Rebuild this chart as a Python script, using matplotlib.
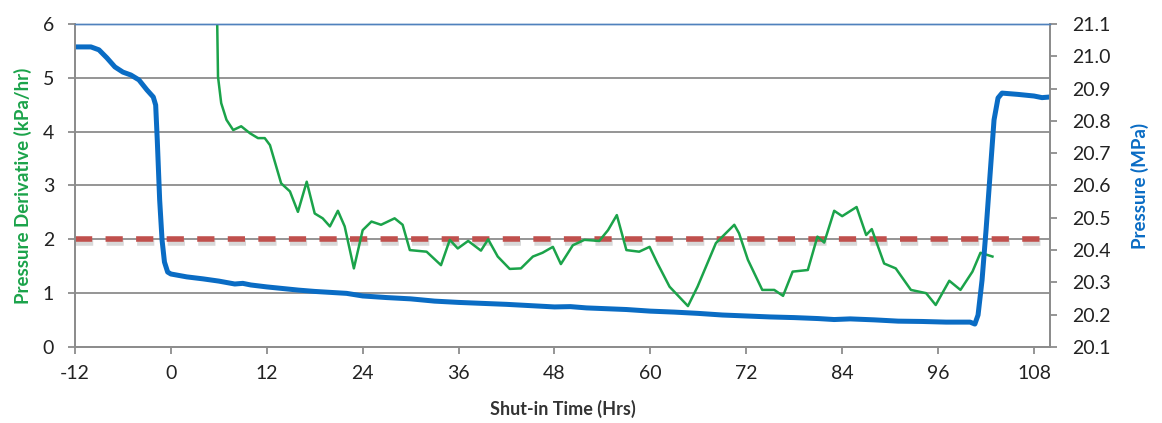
import matplotlib.pyplot as plt
import matplotlib.patheffects as pe

plt.rcParams['font.family'] = ['Lato', 'DejaVu Sans']
plt.rcParams['axes.unicode_minus'] = False

# pressure gauge record (MPa) vs shut-in time (hrs)
p_time = [-12, -10, -9, -8, -7, -6, -5, -4, -3, -2.2, -1.9, -1.7, -1.4, -1.1, -0.8,
          -0.4, 0, 2, 4, 6, 8, 9, 10, 12, 14, 16, 18, 20, 22, 24, 27, 30, 33, 36,
          39, 42, 45, 48, 50, 52, 54, 57, 60, 63, 66, 69, 72, 75, 78, 81, 83, 85,
          88, 91, 94, 97, 100, 100.6, 101, 101.5, 102, 102.5, 103, 103.5, 104,
          106, 108, 109, 110]
pressure = [21.029, 21.029, 21.020, 20.995, 20.967, 20.951, 20.942, 20.927, 20.896,
            20.874, 20.849, 20.741, 20.555, 20.431, 20.363, 20.332, 20.326, 20.317,
            20.311, 20.304, 20.295, 20.297, 20.292, 20.286, 20.281, 20.276, 20.272,
            20.269, 20.266, 20.258, 20.253, 20.249, 20.242, 20.238, 20.235, 20.232,
            20.228, 20.224, 20.225, 20.221, 20.219, 20.216, 20.211, 20.208, 20.204,
            20.199, 20.196, 20.193, 20.191, 20.188, 20.185, 20.187, 20.184, 20.180,
            20.179, 20.177, 20.177, 20.171, 20.199, 20.307, 20.462, 20.633, 20.803,
            20.871, 20.886, 20.882, 20.877, 20.872, 20.874]

# pressure derivative (kPa/hr)
d_time = [5.7, 5.9, 6.3, 6.96, 7.8, 8.8, 9.9, 10.9, 11.75, 12.4, 13.8, 14.9, 15.9,
          17.0, 18.0, 19.0, 19.9, 20.9, 21.75, 22.9, 24.0, 25.1, 26.3, 28.0, 29.0,
          29.9, 32.0, 33.8, 34.9, 35.9, 37.2, 38.8, 39.7, 40.9, 42.4, 43.8, 45.3,
          46.5, 47.8, 48.8, 50.3, 51.75, 53.6, 54.7, 55.8, 57.0, 58.6, 59.9, 60.9,
          62.4, 64.7, 65.9, 68.2, 70.5, 71.1, 72.2, 74.0, 75.5, 76.6, 77.8, 79.7,
          80.9, 81.75, 83.0, 84.0, 85.8, 87.0, 87.7, 89.25, 90.7, 92.6, 94.5, 95.7,
          97.4, 98.8, 100.3, 101.3, 102.8]
derivative = [7.0, 5.02, 4.53, 4.22, 4.03, 4.10, 3.97, 3.88, 3.88, 3.75, 3.04, 2.89,
              2.51, 3.07, 2.48, 2.39, 2.24, 2.53, 2.24, 1.46, 2.17, 2.33, 2.27, 2.39,
              2.27, 1.80, 1.77, 1.52, 1.99, 1.83, 1.97, 1.79, 2.00, 1.68, 1.45, 1.46,
              1.68, 1.75, 1.86, 1.54, 1.89, 1.99, 1.97, 2.17, 2.45, 1.80, 1.77, 1.86,
              1.55, 1.12, 0.76, 1.12, 1.93, 2.27, 2.11, 1.62, 1.06, 1.06, 0.95, 1.40,
              1.43, 2.05, 1.94, 2.53, 2.43, 2.60, 2.08, 2.19, 1.55, 1.46, 1.06, 1.00,
              0.78, 1.23, 1.06, 1.40, 1.75, 1.68]

threshold = 2.0
x_ticks = [-12, 0, 12, 24, 36, 48, 60, 72, 84, 96, 108]

GREEN = '#1BA34A'
BLUE = '#0A6CC4'
GRID = '#8C8C8C'

fig = plt.figure(figsize=(11.62, 4.23), dpi=100)
ax = fig.add_axes([0.0645, 0.1797, 0.8391, 0.7636])
ax2 = ax.twinx()

ax.set_xlim(-12, 110)
ax.set_ylim(0, 6)
ax.set_xticks(x_ticks)
ax.set_yticks(range(0, 7))
for y in range(1, 6):
    ax.axhline(y, color=GRID, lw=1.3, zorder=1)

ax.plot([-12, 110], [threshold, threshold], color='#C0504D', lw=4, dashes=(3.1, 2.4),
        solid_capstyle='butt', zorder=2,
        path_effects=[pe.SimpleLineShadow(offset=(0.5, -2.5), shadow_color='#aaaaaa', alpha=0.45),
                      pe.Normal()])
ax.plot(d_time, derivative, color=GREEN, lw=1.8, zorder=3, solid_joinstyle='round')

ax2.set_ylim(20.1, 21.1)
ax2.set_yticks([20.1 + 0.1 * i for i in range(11)])
ax2.set_yticklabels([f'{20.1 + 0.1 * i:.1f}' for i in range(11)])
ax2.plot(p_time, pressure, color=BLUE, lw=3.6, solid_joinstyle='round')

for a in (ax, ax2):
    for s in ('left', 'right', 'bottom'):
        a.spines[s].set_color(GRID)
        a.spines[s].set_linewidth(1.3)
    a.spines['top'].set_color('#4F81BD')
    a.spines['top'].set_linewidth(1.0)
    a.tick_params(direction='out', length=5, width=1.3, color=GRID,
                  labelsize=14, labelcolor='#222222')
ax.tick_params(axis='x', pad=8)
ax.tick_params(axis='y', pad=10)
ax2.tick_params(axis='y', pad=11)

ax.set_ylabel('Pressure Derivative (kPa/hr)', color=GREEN, fontsize=13.5, fontweight='bold')
ax.yaxis.set_label_coords(-0.044, 0.5)
ax2.set_ylabel('Pressure (MPa)', color=BLUE, fontsize=13.5, fontweight='bold')
ax2.yaxis.set_label_coords(1.083, 0.5)
ax.set_xlabel('Shut-in Time (Hrs)', color='#333333', fontsize=13, fontweight='bold')
ax.xaxis.set_label_coords(0.5, -0.165)

fig.savefig('out.png', dpi=100)
